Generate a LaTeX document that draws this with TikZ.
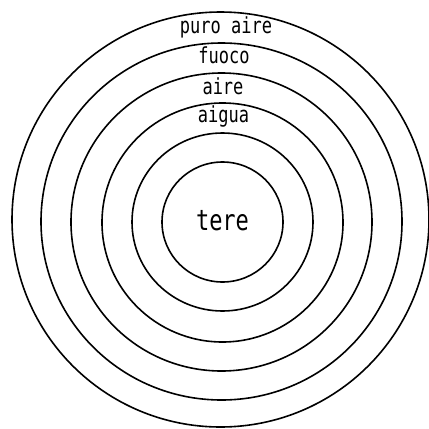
\documentclass[tikz,border=0pt]{standalone}
\usepackage{fontspec}
\setmonofont{DejaVu Sans Mono}
\begin{document}
\begin{tikzpicture}[x=1pt,y=-1pt,
  ring/.style={draw=black, line width=1.6pt},
  lbl/.style={font=\ttfamily\fontsize{17}{17}\selectfont, inner sep=0pt, anchor=base},
  big/.style={font=\ttfamily\fontsize{22}{22}\selectfont, inner sep=0pt, anchor=base}]
\useasboundingbox (0,0) rectangle (429,429);
\draw[ring] (222.5,222) ellipse [x radius=60.5, y radius=60];
\draw[ring] (222.5,222) ellipse [x radius=90.5, y radius=89];
\draw[ring] (222.5,222.5) ellipse [x radius=120.5, y radius=119.5];
\draw[ring] (221.5,222) ellipse [x radius=150.5, y radius=149];
\draw[ring] (221.5,221.5) ellipse [x radius=180.5, y radius=178.5];
\draw[ring] (220.5,219.5) ellipse [x radius=208.5, y radius=207.5];
\node[lbl] (puro) at (226,33) {\scalebox{1}[1.3]{puro aire}};
\node[lbl] (fuoco) at (224,63) {\scalebox{1}[1.3]{fuoco}};
\node[lbl] (aire) at (223,94) {\scalebox{1}[1.3]{aire}};
\node[lbl] (aigua) at (223.5,122) {\scalebox{1}[1.3]{aigua}};
\node[big] (tere) at (222.5,230) {\scalebox{1}[1.3]{tere}};
\end{tikzpicture}
\end{document}
